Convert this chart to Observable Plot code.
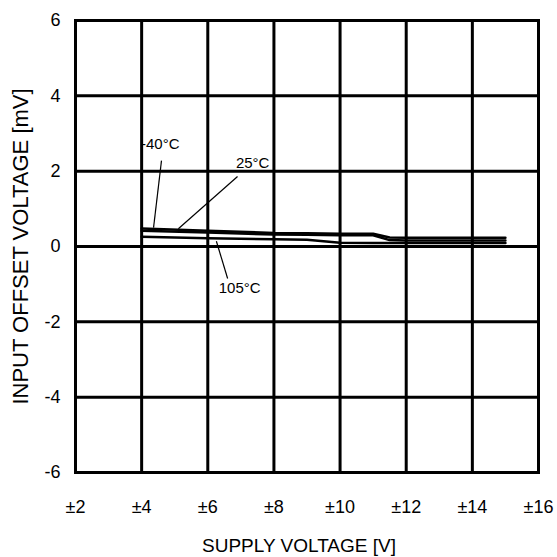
<!DOCTYPE html>
<html>
<head>
<meta charset="utf-8">
<script src="https://cdn.jsdelivr.net/npm/d3@7"></script>
<script src="https://cdn.jsdelivr.net/npm/@observablehq/plot@0.6"></script>
<style>
  html, body { margin: 0; padding: 0; background: #fff; }
</style>
</head>
<body>
<div id="chart"></div>
<script>
// Supply voltage (±V) sample points
const supplyV = [4, 6, 8, 9, 10, 11, 11.5, 12, 13, 14, 15];
// Input offset voltage (mV) per temperature
const vosM40 = [0.48, 0.42, 0.36, 0.35, 0.34, 0.34, 0.24, 0.23, 0.23, 0.23, 0.23];
const vos25  = [0.42, 0.37, 0.32, 0.31, 0.30, 0.30, 0.17, 0.16, 0.16, 0.16, 0.16];
const vos105 = [0.26, 0.22, 0.19, 0.18, 0.10, 0.09, 0.09, 0.09, 0.09, 0.09, 0.09];
const seriesNames = ["-40°C", "25°C", "105°C"];
const seriesValues = [vosM40, vos25, vos105];

const xTicks = [2, 4, 6, 8, 10, 12, 14, 16];
const yTicks = [-6, -4, -2, 0, 2, 4, 6];
const xLabel = "SUPPLY VOLTAGE [V]";
const yLabel = "INPUT OFFSET VOLTAGE [mV]";

// Annotation labels (data coordinates) and leader lines
const labelText = ["-40°C", "25°C", "105°C"];
const labelX = [3.98, 6.85, 6.33];
const labelY = [2.72, 2.2, -1.1];
const leaderX1 = [4.60, 6.90, 6.60];
const leaderY1 = [2.28, 1.86, -0.85];
const leaderX2 = [4.36, 5.11, 6.26];
const leaderY2 = [0.50, 0.47, 0.14];

const rows = [];
seriesNames.forEach((s, i) => supplyV.forEach((v, j) => rows.push({series: s, v, mv: seriesValues[i][j]})));
const labels = labelText.map((t, i) => ({t, x: labelX[i], y: labelY[i]}));
const leaders = labelText.map((t, i) => ({x1: leaderX1[i], y1: leaderY1[i], x2: leaderX2[i], y2: leaderY2[i]}));

const chart = Plot.plot({
  width: 557,
  height: 557,
  marginLeft: 75,
  marginRight: 19,
  marginTop: 20,
  marginBottom: 85,
  style: {fontFamily: "'Liberation Sans', Arial, sans-serif", fontSize: "18px", color: "#000", background: "#fff"},
  x: {domain: [2, 16]},
  y: {domain: [-6, 6]},
  marks: [
    Plot.gridX(xTicks, {stroke: "#000", strokeOpacity: 1, strokeWidth: 3}),
    Plot.gridY(yTicks, {stroke: "#000", strokeOpacity: 1, strokeWidth: 3}),
    Plot.frame({stroke: "#000", strokeWidth: 3}),
    Plot.axisX(xTicks, {tickSize: 0, tickPadding: 28, tickFormat: d => "±" + d, fontSize: 18, label: null}),
    Plot.axisY(yTicks, {tickSize: 0, tickPadding: 15, tickFormat: d => String(d), fontSize: 18, label: null}),
    Plot.text([xLabel], {frameAnchor: "bottom", textAnchor: "middle", lineAnchor: "middle", dx: -8, dy: 73, fontSize: 19, fill: "#000"}),
    Plot.text([yLabel], {frameAnchor: "left", textAnchor: "middle", lineAnchor: "middle", rotate: -90, dx: -55, fontSize: 22, fill: "#000"}),
    Plot.line(rows, {x: "v", y: "mv", z: "series", stroke: "#000", strokeWidth: 2.5}),
    Plot.link(leaders, {x1: "x1", y1: "y1", x2: "x2", y2: "y2", stroke: "#000", strokeWidth: 1.2}),
    Plot.text(labels, {x: "x", y: "y", text: "t", textAnchor: "start", fontSize: 15, fill: "#000"})
  ]
});
document.getElementById("chart").appendChild(chart);
</script>
</body>
</html>
